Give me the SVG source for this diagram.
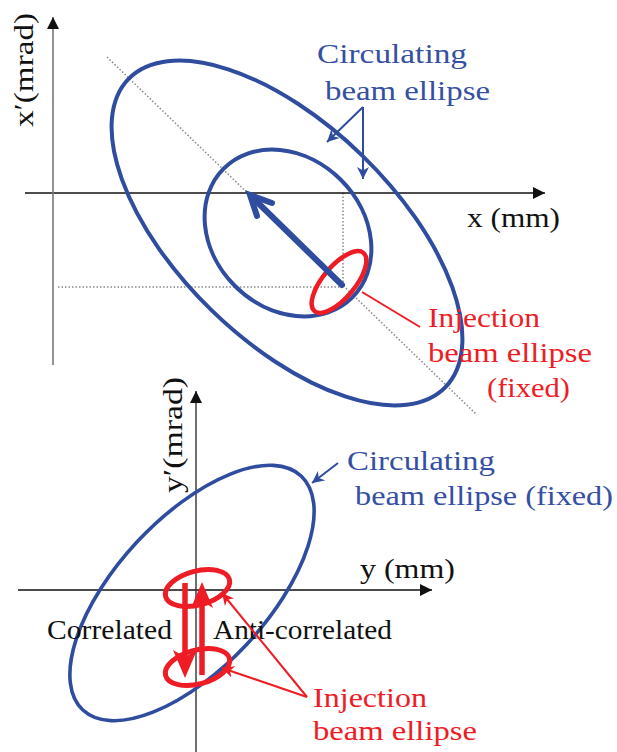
<svg xmlns="http://www.w3.org/2000/svg" width="617" height="752" viewBox="0 0 617 752">
<defs>
<style>
.t{font-family:"Liberation Serif","Times New Roman",serif;font-size:28px}
.blue{fill:#3550A2}
.red{fill:#EE1D25}
.blk{fill:#111}
.ell{fill:none;stroke:#2F4C9F;stroke-width:4}
.rell{fill:none;stroke:#EE1D25;stroke-width:4.5}
.dot{fill:none;stroke:#888;stroke-width:1.5;stroke-dasharray:1.5 2}
.axis{stroke:#111;stroke-width:1.4;fill:none}
.bptr{stroke:#2F4C9F;stroke-width:2;fill:none}
.rptr{stroke:#EE1D25;stroke-width:2;fill:none}
</style>
<marker id="ah" viewBox="0 0 10 10" refX="10" refY="5" markerWidth="14" markerHeight="12" markerUnits="userSpaceOnUse" orient="auto">
<path d="M0,0 L10,5 L0,10 z" fill="#111"/>
</marker>
<marker id="bh" viewBox="0 0 10 10" refX="10" refY="5" markerWidth="12" markerHeight="12" markerUnits="userSpaceOnUse" orient="auto">
<path d="M0,0 L10,5 L0,10 L3,5 z" fill="#2F4C9F"/>
</marker>
<marker id="rh" viewBox="0 0 10 10" refX="10" refY="5" markerWidth="12" markerHeight="12" markerUnits="userSpaceOnUse" orient="auto">
<path d="M0,0 L10,5 L0,10 L3,5 z" fill="#EE1D25"/>
</marker>
</defs>
<rect width="617" height="752" fill="#fff"/>

<g id="top-guides">
<line class="dot" x1="107" y1="57" x2="477" y2="415"/>
<line class="dot" x1="58" y1="287" x2="343" y2="287"/>
<line class="dot" x1="343" y1="193" x2="343" y2="287"/>
</g>

<g id="top-axes">
<line x1="25" y1="193" x2="545" y2="193" class="axis" marker-end="url(#ah)"/>
<line x1="53" y1="365" x2="53" y2="17" stroke="#777" stroke-width="1.6" marker-end="url(#ah)"/>
<text class="t blk" x="467" y="227" textLength="93" lengthAdjust="spacingAndGlyphs">x (mm)</text>
<text class="t blk" transform="translate(33,127) rotate(-90)" x="0" y="0" textLength="114" lengthAdjust="spacingAndGlyphs">x′(mrad)</text>
</g>

<g id="top-big-ellipse">
<ellipse class="ell" cx="287" cy="233" rx="221" ry="108" transform="rotate(44.2 287 233)"/>
</g>
<g id="top-mid-ellipse">
<ellipse class="ell" cx="288" cy="233" rx="91" ry="75" transform="rotate(45 288 233)"/>
</g>
<g id="top-injection-ellipse">
<ellipse class="rell" cx="339" cy="282" rx="38" ry="16" transform="rotate(-50 339 282)"/>
</g>
<g id="top-kick-arrow">
<line x1="342" y1="285" x2="252" y2="197" stroke="#2F4C9F" stroke-width="6" stroke-linecap="round"/>
<polyline points="272,203 250,195 257,216" fill="none" stroke="#2F4C9F" stroke-width="6" stroke-linecap="round" stroke-linejoin="miter"/>
</g>

<g id="top-labels">
<text class="t blue" x="317" y="63" textLength="150" lengthAdjust="spacingAndGlyphs">Circulating</text>
<text class="t blue" x="325" y="100" textLength="165" lengthAdjust="spacingAndGlyphs">beam ellipse</text>
<text class="t red" x="428" y="327" textLength="112" lengthAdjust="spacingAndGlyphs">Injection</text>
<text class="t red" x="428" y="362" textLength="164" lengthAdjust="spacingAndGlyphs">beam ellipse</text>
<text class="t red" x="487" y="397" textLength="83" lengthAdjust="spacingAndGlyphs">(fixed)</text>
</g>

<g id="bottom-axes">
<line x1="18" y1="590" x2="432" y2="590" class="axis" marker-end="url(#ah)"/>
<line x1="196" y1="752" x2="196" y2="391" stroke="#333" stroke-width="1.4" marker-end="url(#ah)"/>
<text class="t blk" x="360" y="578" textLength="95" lengthAdjust="spacingAndGlyphs">y (mm)</text>
<text class="t blk" transform="translate(182,493) rotate(-90)" x="0" y="0" textLength="116" lengthAdjust="spacingAndGlyphs">y′(mrad)</text>
</g>

<g id="bottom-big-ellipse">
<ellipse class="ell" cx="192" cy="593" rx="160" ry="75" transform="rotate(-47 192 593)" style="stroke-width:3.6"/>
</g>
<g id="bottom-injection-upper">
<ellipse class="rell" cx="197.5" cy="588" rx="33" ry="17" transform="rotate(-15 197.5 588)" style="stroke-width:5"/>
</g>
<g id="bottom-injection-lower">
<ellipse class="rell" cx="197.5" cy="667" rx="33" ry="17" transform="rotate(-15 197.5 667)" style="stroke-width:5"/>
</g>
<g id="correlated-arrow">
<line x1="185" y1="583" x2="185" y2="660" stroke="#EE1D25" stroke-width="5.5"/>
<path d="M173,650 L185,678 L197,650 L185,657 z" fill="#EE1D25"/>
</g>
<g id="anticorrelated-arrow">
<line x1="202" y1="675" x2="202" y2="600" stroke="#EE1D25" stroke-width="5.5"/>
<path d="M191,608 L202,582 L213,608 L202,601 z" fill="#EE1D25"/>
</g>

<g id="bottom-labels">
<text class="t blue" x="347" y="470" textLength="148" lengthAdjust="spacingAndGlyphs">Circulating</text>
<text class="t blue" x="355" y="505" textLength="258" lengthAdjust="spacingAndGlyphs">beam ellipse (fixed)</text>
<text class="t blk" x="47" y="639" textLength="125" lengthAdjust="spacingAndGlyphs">Correlated</text>
<text class="t blk" x="213" y="639" textLength="179" lengthAdjust="spacingAndGlyphs">Anti-correlated</text>
<text class="t red" x="313" y="707" textLength="114" lengthAdjust="spacingAndGlyphs">Injection</text>
<text class="t red" x="313" y="740" textLength="164" lengthAdjust="spacingAndGlyphs">beam ellipse</text>
</g>

<g id="connectors">
<line class="bptr" x1="363" y1="107" x2="327" y2="142" marker-end="url(#bh)"/>
<line class="bptr" x1="363" y1="107" x2="363" y2="179" marker-end="url(#bh)"/>
<line class="rptr" x1="362" y1="292" x2="420" y2="327"/>
<line class="bptr" x1="338" y1="463" x2="312" y2="483" marker-end="url(#bh)"/>
<line class="rptr" x1="307" y1="697" x2="222" y2="593" marker-end="url(#rh)"/>
<line class="rptr" x1="307" y1="697" x2="222" y2="668" marker-end="url(#rh)"/>
</g>
</svg>
